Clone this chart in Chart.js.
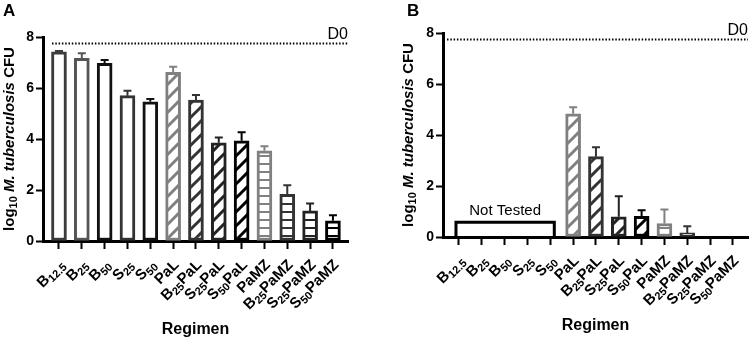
<!DOCTYPE html>
<html>
<head>
<meta charset="utf-8">
<script src="https://cdn.jsdelivr.net/npm/chart.js@4.4.1/dist/chart.umd.min.js"></script>
<style>
  html, body { margin: 0; padding: 0; background: #fff; }
  #wrap { display: flex; width: 750px; height: 341px; }
  .panel { position: relative; width: 375px; height: 341px; }
</style>
</head>
<body>
<div id="wrap">
  <div class="panel"><canvas id="chartA"></canvas></div>
  <div class="panel"><canvas id="chartB"></canvas></div>
</div>
<script>
// Mouse lung CFU by regimen, panels A and B
// regimen names, _{..} marks a subscript dose
const regimens = ['B_{12.5}', 'B_{25}', 'B_{50}', 'S_{25}', 'S_{50}',
    'PaL', 'B_{25}PaL', 'S_{25}PaL', 'S_{50}PaL',
    'PaMZ', 'B_{25}PaMZ', 'S_{25}PaMZ', 'S_{50}PaMZ'];

// log10 CFU means and upper error (SD)
const meansA = [7.42, 7.16, 6.97, 5.70, 5.46, 6.61, 5.53, 3.85, 3.93, 3.54, 1.83, 1.18, 0.79];
const errA   = [0.03, 0.20, 0.13, 0.19, 0.11, 0.22, 0.20, 0.21, 0.33, 0.18, 0.36, 0.29, 0.22];
const meansB = [null, null, null, null, null, 4.83, 3.15, 0.79, 0.81, 0.53, 0.16, null, null];
const errB   = [null, null, null, null, null, 0.26, 0.37, 0.81, 0.24, 0.55, 0.26, null, null];

const d0Level = 7.75;          // day-0 baseline
const yTicks = [0, 2, 4, 6, 8];
const notTestedRange = [0, 4]; // category indexes not tested in B
const notTestedLevel = 0.58;

// styles
const FONT = '"Liberation Sans", Arial, sans-serif';
const barColors = ['#3c3c3c', '#555555', '#111111', '#333333', '#111111',
    '#808080', '#333333', '#222222', '#000000',
    '#808080', '#333333', '#222222', '#000000'];
const barKinds = ['open', 'open', 'open', 'open', 'open',
    'diag', 'diag', 'diag', 'diag',
    'horiz', 'horiz', 'horiz', 'horiz'];

function makePattern(kind, color) {
    if (kind === 'open') return '#ffffff';
    const c = document.createElement('canvas');
    const s = kind === 'diag' ? 14 : 8;
    c.width = s; c.height = s;
    const g = c.getContext('2d');
    g.fillStyle = '#fff';
    g.fillRect(0, 0, s, s);
    g.strokeStyle = color;
    if (kind === 'diag') {
        g.lineWidth = 3;
        g.beginPath();
        g.moveTo(-s / 2, s / 2); g.lineTo(s / 2, -s / 2);
        g.moveTo(0, s); g.lineTo(s, 0);
        g.moveTo(s / 2, s * 1.5); g.lineTo(s * 1.5, s / 2);
        g.stroke();
    } else {
        g.lineWidth = 2;
        g.beginPath();
        g.moveTo(0, s / 2); g.lineTo(s, s / 2);
        g.stroke();
    }
    return g.createPattern(c, 'repeat');
}

// split 'B_{25}PaL' into [{t,sub}]
function parseLabel(str) {
    const out = [];
    str.split(/(_\{[^}]*\})/).forEach(s => {
        if (!s) return;
        if (s.startsWith('_{')) out.push({ t: s.slice(2, -1), sub: true });
        else out.push({ t: s, sub: false });
    });
    return out;
}

function drawParts(ctx, parts, align) {
    let total = 0;
    parts.forEach(p => { ctx.font = p.f; p.w = ctx.measureText(p.t).width; total += p.w; });
    let x = align === 'right' ? -total : -total / 2;
    ctx.textAlign = 'left';
    ctx.textBaseline = 'alphabetic';
    parts.forEach(p => { ctx.font = p.f; ctx.fillText(p.t, x, p.dy); x += p.w; });
}

function drawYTitle(ctx, cx, cy) {
    const parts = [
        { t: 'log', f: 'bold 15px ' + FONT, dy: 5 },
        { t: '10', f: 'bold 11px ' + FONT, dy: 8 },
        { t: ' M. tuberculosis', f: 'italic bold 15px ' + FONT, dy: 5 },
        { t: ' CFU', f: 'bold 15px ' + FONT, dy: 5 }
    ];
    ctx.save();
    ctx.translate(cx, cy);
    ctx.rotate(-Math.PI / 2);
    ctx.fillStyle = '#000';
    drawParts(ctx, parts, 'center');
    ctx.restore();
}

function extrasPlugin(cfg) {
    return {
        id: 'extras',
        afterDraw(chart) {
            const ctx = chart.ctx;
            const xs = chart.scales.x, ys = chart.scales.y, area = chart.chartArea;
            ctx.save();
            // error bars (upper only)
            cfg.means.forEach((m, i) => {
                if (m == null || cfg.errs[i] == null) return;
                const x = xs.getPixelForValue(i);
                const y0 = ys.getPixelForValue(m);
                const y1 = ys.getPixelForValue(m + cfg.errs[i]);
                ctx.strokeStyle = barColors[i];
                ctx.lineWidth = 2;
                ctx.beginPath();
                ctx.moveTo(x, y0); ctx.lineTo(x, y1);
                ctx.moveTo(x - 4, y1); ctx.lineTo(x + 4, y1);
                ctx.stroke();
            });
            // D0 dotted line
            const yd = ys.getPixelForValue(d0Level);
            ctx.strokeStyle = '#000';
            ctx.lineWidth = 2;
            ctx.setLineDash([1.5, 1.8]);
            ctx.beginPath();
            ctx.moveTo(area.left + cfg.d0Start, yd);
            ctx.lineTo(area.right, yd);
            ctx.stroke();
            ctx.setLineDash([]);
            ctx.fillStyle = '#000';
            ctx.font = '16px ' + FONT;
            ctx.textAlign = 'right';
            ctx.textBaseline = 'alphabetic';
            ctx.fillText('D0', area.right, yd - 4);
            // not tested bracket
            if (cfg.notTested) {
                const xl = xs.getPixelForValue(notTestedRange[0]) - 3;
                const xr = xs.getPixelForValue(notTestedRange[1]) + 4;
                const yt = ys.getPixelForValue(notTestedLevel);
                ctx.lineWidth = 3;
                ctx.lineJoin = 'miter';
                ctx.beginPath();
                ctx.moveTo(xl, area.bottom); ctx.lineTo(xl, yt);
                ctx.lineTo(xr, yt); ctx.lineTo(xr, area.bottom);
                ctx.stroke();
                ctx.font = '15px ' + FONT;
                ctx.textAlign = 'center';
                ctx.fillText('Not Tested', (xl + xr) / 2, yt - 7);
            }
            // rotated regimen labels with subscripts
            regimens.forEach((lab, i) => {
                const parts = parseLabel(lab).map(p => ({
                    t: p.t,
                    f: 'bold ' + (p.sub ? 11 : 15) + 'px ' + FONT,
                    dy: p.sub ? 8 : 5
                }));
                ctx.save();
                ctx.translate(xs.getPixelForValue(i) + 3, area.bottom + 21);
                ctx.rotate(-Math.PI / 4);
                drawParts(ctx, parts, 'right');
                ctx.restore();
            });
            // y title and panel letter
            drawYTitle(ctx, cfg.yTitleX, (area.top + area.bottom) / 2);
            ctx.font = 'bold 17px ' + FONT;
            ctx.textAlign = 'left';
            ctx.textBaseline = 'alphabetic';
            ctx.fillText(cfg.letter, cfg.letterX, 16);
            ctx.restore();
        }
    };
}

function makeChart(id, cfg) {
    const points = [];
    cfg.means.forEach((m, i) => { if (m != null) points.push({ x: i, y: m }); });
    const idx = points.map(p => p.x);
    new Chart(document.getElementById(id), {
        type: 'bar',
        data: {
            datasets: [{
                data: points,
                backgroundColor: idx.map(i => makePattern(barKinds[i], barColors[i])),
                borderColor: idx.map(i => barColors[i]),
                borderWidth: 3,
                borderSkipped: false,
                barThickness: 15
            }]
        },
        options: {
            responsive: true,
            maintainAspectRatio: false,
            animation: false,
            events: [],
            layout: { padding: { left: 0, top: cfg.top, right: cfg.right, bottom: 0 } },
            plugins: { legend: { display: false }, tooltip: { enabled: false } },
            scales: {
                x: {
                    type: 'linear',
                    min: -0.7,
                    max: 12.66,
                    offset: false,
                    afterFit: s => { s.height = 341 - cfg.bottomY; },
                    border: { display: true, color: '#000', width: 3 },
                    grid: { offset: false, drawOnChartArea: false, drawTicks: true, tickLength: 8, tickWidth: 2, tickColor: '#000' },
                    ticks: {
                        stepSize: 1,
                        includeBounds: false,
                        autoSkip: false,
                        maxRotation: 0,
                        callback: () => ''
                    },
                    title: {
                        display: true,
                        text: 'Regimen',
                        color: '#000',
                        font: { family: FONT, size: 16, weight: 'bold' },
                        padding: { top: 0, bottom: cfg.titlePad }
                    }
                },
                y: {
                    min: yTicks[0],
                    max: yTicks[yTicks.length - 1],
                    afterFit: s => { s.width = cfg.axisX; },
                    border: { display: true, color: '#000', width: 3 },
                    grid: { drawOnChartArea: false, drawTicks: true, tickLength: 7, tickWidth: 2, tickColor: '#000' },
                    ticks: {
                        stepSize: 2,
                        padding: 2,
                        color: '#000',
                        font: { family: FONT, size: 14, weight: 'bold' }
                    }
                }
            }
        },
        plugins: [extrasPlugin(cfg)]
    });
}

makeChart('chartA', {
    means: meansA, errs: errA, letter: 'A', letterX: 3, yTitleX: 9,
    axisX: 43, top: 37, right: 27, bottomY: 241, titlePad: 2, d0Start: 9, notTested: false
});
makeChart('chartB', {
    means: meansB, errs: errB, letter: 'B', letterX: 32, yTitleX: 33,
    axisX: 68, top: 33, right: 2, bottomY: 237, titlePad: 6, d0Start: 4, notTested: true
});
</script>
</body>
</html>
